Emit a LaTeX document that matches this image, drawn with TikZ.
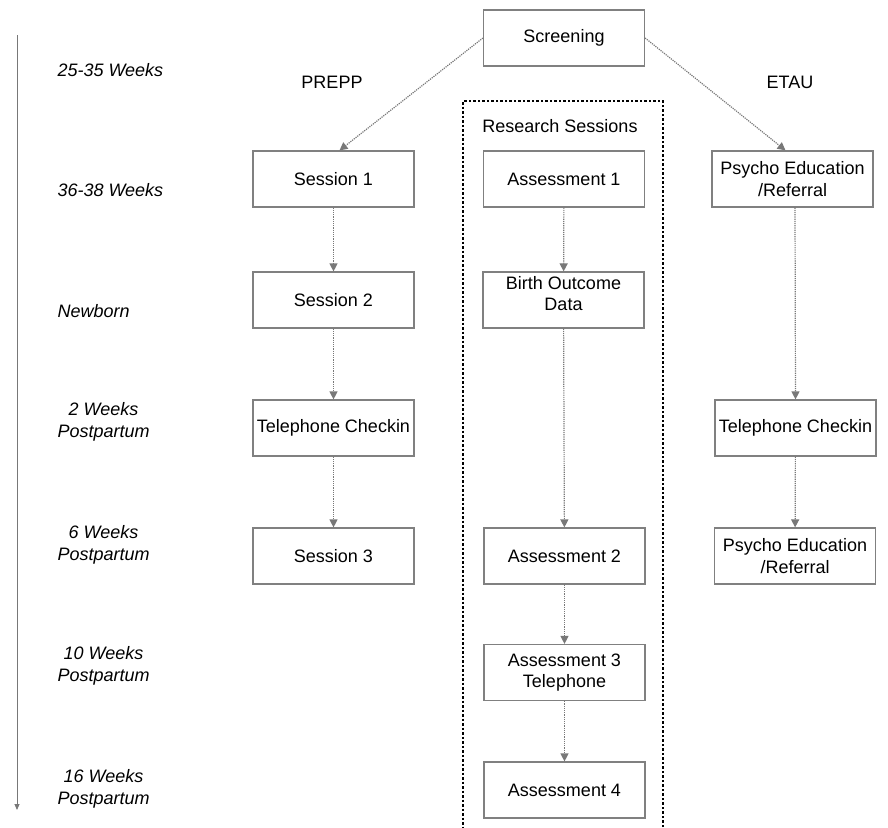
\documentclass[tikz,border=0pt]{standalone}
\usepackage{fontspec}
\setmainfont{Liberation Sans}
\usetikzlibrary{arrows.meta}
\definecolor{boxgray}{RGB}{128,128,128}
\definecolor{arrgray}{RGB}{120,120,120}
\begin{document}
\begin{tikzpicture}[x=1pt,y=-1pt,
  box/.style={draw=boxgray,line width=1.2pt,minimum width=161pt,minimum height=56pt,inner sep=1pt,align=center,font=\fontsize{18}{21.5}\selectfont},
  conn/.style={draw=arrgray,line width=1.2pt,densely dotted,-{Triangle[width=8pt,length=8pt,fill=arrgray]}},
  tlabel/.style={font=\fontsize{18}{22}\selectfont\itshape,align=center,anchor=west},
  plain/.style={font=\fontsize{18}{21.5}\selectfont}]
\useasboundingbox (0,0) rectangle (888,827);
% research sessions frame
\draw[line width=1.4pt,dash pattern=on 2.5pt off 2pt] (663,827) -- (663,101) -- (463,101) -- (463,827);
\node[plain] (rs) at (560,126) {Research Sessions};
% nodes
\node[box] (scr) at (564,38) {Screening};
\node[plain] (prepp) at (332,82) {PREPP};
\node[plain] (etau) at (790,82) {ETAU};
\node[box] (s1) at (333.5,179) {Session 1};
\node[box] (a1) at (564,179) {Assessment 1};
\node[box] (p1) at (792.5,179) {Psycho Education\\/Referral};
\node[box] (s2) at (333.5,300) {Session 2};
\node[box] (bo) at (563.5,300) {Birth Outcome\\Data\\[-8pt]};
\node[box] (tl) at (333.5,428) {Telephone Checkin};
\node[box] (tr) at (795.5,428) {Telephone Checkin};
\node[box] (s3) at (333.5,556) {Session 3};
\node[box] (a2) at (564.5,556) {Assessment 2};
\node[box] (p2) at (795,556) {Psycho Education\\/Referral};
\node[box] (a3) at (564.5,672.5) {Assessment 3\\Telephone};
\node[box] (a4) at (564.5,790) {Assessment 4};
% connectors
\draw[conn] (scr.west) -- ([xshift=6pt]s1.north);
\draw[conn] (scr.east) -- ([xshift=-7pt]p1.north);
\draw[conn] (s1) -- (s2);
\draw[conn] (s2) -- (tl);
\draw[conn] (tl) -- (s3);
\draw[conn] (a1) -- (bo);
\draw[conn] (bo) -- (a2);
\draw[conn] (a2) -- (a3);
\draw[conn] (a3) -- (a4);
\draw[conn] ([xshift=2.5pt]p1.south) -- (tr.north);
\draw[conn] (tr) -- (p2);
% timeline
\coordinate (t0) at (17,35);
\coordinate (t1) at (17,810);
\draw[draw=arrgray,line width=1pt,-{Triangle[width=5pt,length=6pt,fill=arrgray]}] (t0) -- (t1);
\node[tlabel] (w1) at (54,70) {25-35 Weeks};
\node[tlabel] (w2) at (54,190) {36-38 Weeks};
\node[tlabel] (w3) at (54,311) {Newborn};
\node[tlabel] (w4) at (54,422) {2 Weeks\\Postpartum};
\node[tlabel] (w5) at (54,545) {6 Weeks\\Postpartum};
\node[tlabel] (w6) at (54,666) {10 Weeks\\Postpartum};
\node[tlabel] (w7) at (54,789) {16 Weeks\\Postpartum};
\end{tikzpicture}
\end{document}
